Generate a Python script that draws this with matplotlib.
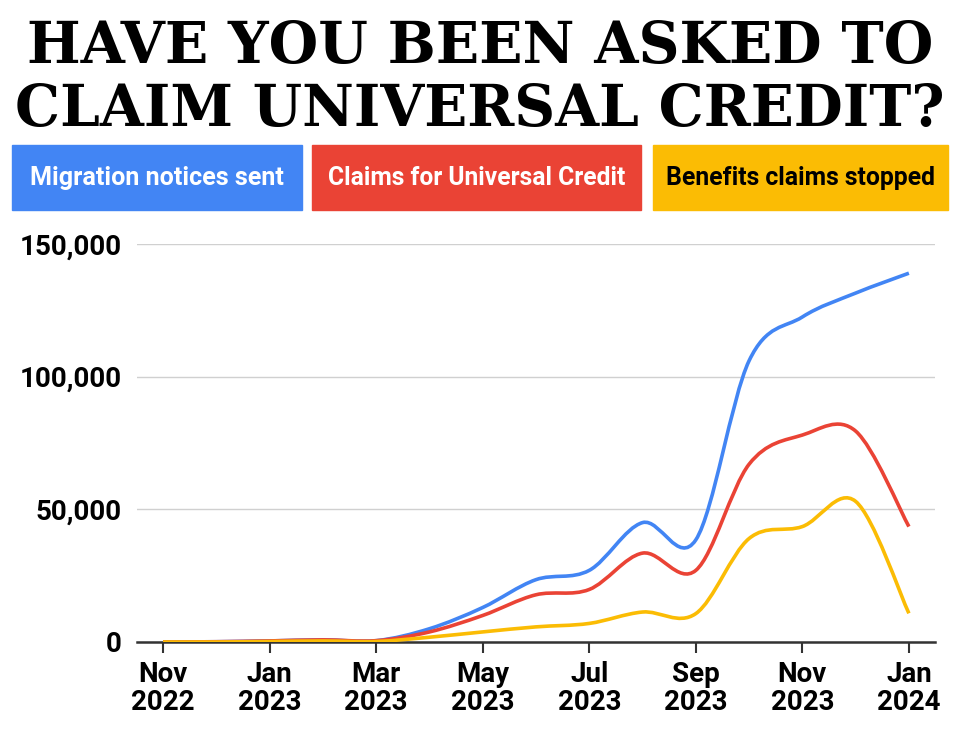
import numpy as np
import matplotlib
matplotlib.use("Agg")
import matplotlib.pyplot as plt
from matplotlib.path import Path
from matplotlib.patches import PathPatch, Rectangle

# Datos mensuales (Nov 2022 - Jan 2024)
months = ["Nov\n2022", "Dec\n2022", "Jan\n2023", "Feb\n2023", "Mar\n2023", "Apr\n2023",
          "May\n2023", "Jun\n2023", "Jul\n2023", "Aug\n2023", "Sep\n2023", "Oct\n2023",
          "Nov\n2023", "Dec\n2023", "Jan\n2024"]
migration = [0, 100, 400, 800, 500, 5000, 13000, 23500, 27000, 45000, 38500, 106000, 122500, 131500, 139000]
claims = [0, 100, 400, 800, 500, 3800, 10000, 17800, 19800, 33500, 27000, 67000, 78000, 79500, 43500]
stopped = [0, 0, 200, 400, 200, 1800, 3800, 5700, 7000, 11300, 10700, 39000, 43500, 53000, 10800]

series_names = ["Migration notices sent", "Claims for Universal Credit", "Benefits claims stopped"]
colors = ["#4285F4", "#EA4335", "#FBBC04"]
text_colors = ["white", "white", "black"]

title_font = ["DejaVu Serif", "Liberation Serif"]
label_font = ["Liberation Sans Narrow", "Roboto", "DejaVu Sans"]

W, H = 960, 738
fig = plt.figure(figsize=(W / 100, H / 100), dpi=100)


def px_box(x0, y0, x1, y1):
    # caja en pixeles (origen arriba) -> coords de figura
    return [x0 / W, 1 - y1 / H, (x1 - x0) / W, (y1 - y0) / H]


ax = fig.add_axes(px_box(137, 244, 935, 642))


def smooth_path(xs, ys):
    # Catmull-Rom convertido a curvas Bezier
    p = np.column_stack([xs, ys]).astype(float)
    ext = np.vstack([p[0], p, p[-1]])
    verts = [p[0]]
    codes = [Path.MOVETO]
    for i in range(len(p) - 1):
        p0, p1, p2, p3 = ext[i], ext[i + 1], ext[i + 2], ext[i + 3]
        c1 = p1 + (p2 - p0) / 6
        c2 = p2 - (p3 - p1) / 6
        verts += [c1, c2, p2]
        codes += [Path.CURVE4] * 3
    return Path(verts, codes)


x = np.arange(len(months))
for vals, c in zip([migration, claims, stopped], colors):
    ax.add_patch(PathPatch(smooth_path(x, vals), facecolor="none", edgecolor=c,
                           lw=2.6, capstyle="butt", zorder=3))

ax.set_xlim(-0.49, 14.49)
ax.set_ylim(0, 150000)
ax.set_yticks([0, 50000, 100000, 150000])
ax.set_yticklabels(["0", "50,000", "100,000", "150,000"])
ax.set_xticks(x[::2])
ax.set_xticklabels(months[::2])
ax.grid(axis="y", color="#d0d0d0", lw=1)
ax.set_axisbelow(True)
for s in ["top", "right", "left"]:
    ax.spines[s].set_visible(False)
ax.spines["bottom"].set_color("#333333")
ax.spines["bottom"].set_linewidth(1.8)
ax.spines["bottom"].set_zorder(2)
ax.tick_params(axis="y", length=0, pad=11)
ax.tick_params(axis="x", length=8, width=1.5, color="#333333", pad=6)
for lab in ax.get_xticklabels() + ax.get_yticklabels():
    lab.set_fontfamily(label_font)
    lab.set_fontweight("bold")
    lab.set_fontsize(20)
for lab in ax.get_xticklabels():
    lab.set_linespacing(1.05)

# Titulo
t1 = fig.text(0.5, 1 - 47 / H, "HAVE YOU BEEN ASKED TO", ha="center", va="center",
              family=title_font, weight="heavy", fontsize=48)
t2 = fig.text(0.5, 1 - 110 / H, "CLAIM UNIVERSAL CREDIT?", ha="center", va="center",
              family=title_font, weight="heavy", fontsize=48)

# Leyenda como cajas de color
boxes = [(12, 302), (312, 641), (653, 948)]
targets = [253, 297, 268]
legend_texts = []
for (x0, x1), name, c, tc in zip(boxes, series_names, colors, text_colors):
    fig.patches.append(Rectangle((x0 / W, 1 - 210 / H), (x1 - x0) / W, 65 / H,
                                 transform=fig.transFigure, color=c, zorder=1))
    legend_texts.append(fig.text((x0 + x1) / 2 / W, 1 - 178 / H, name, ha="center",
                                 va="center", color=tc, family=label_font,
                                 weight="bold", fontsize=20, zorder=2))

# Ajustar tamanos al ancho del original
fig.canvas.draw()
r = fig.canvas.get_renderer()
for t, target in [(t1, 905), (t2, 930)] + list(zip(legend_texts, targets)):
    w = t.get_window_extent(r).width
    t.set_fontsize(t.get_fontsize() * target / w)

fig.savefig("out.png", dpi=100)
